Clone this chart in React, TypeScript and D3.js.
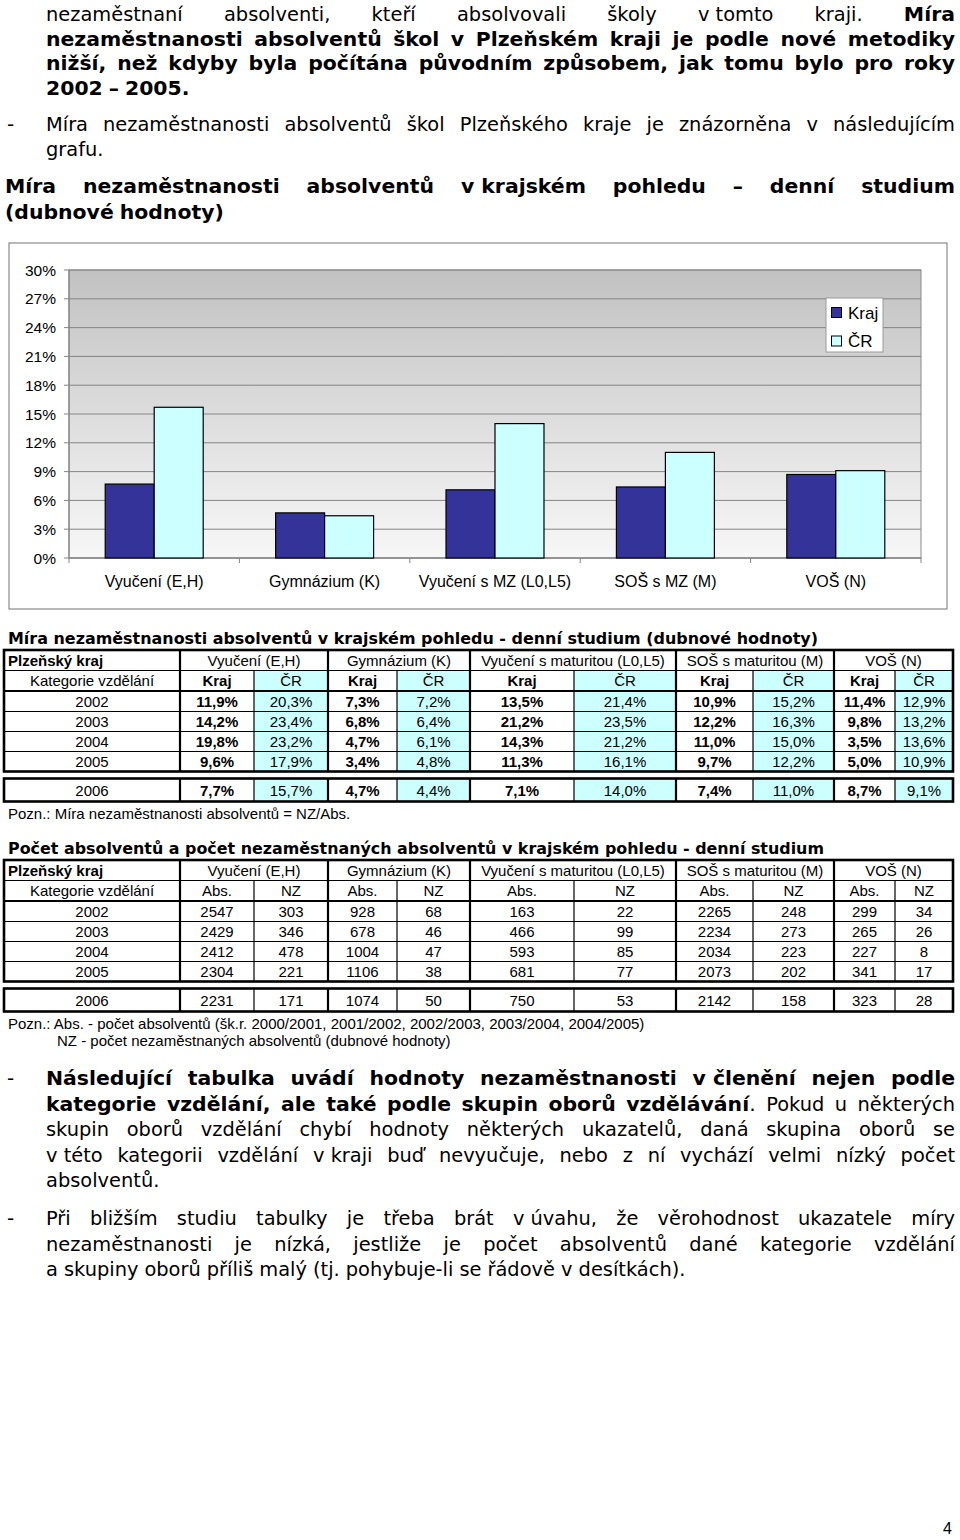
import React, { useEffect, useRef } from "react";
import * as d3 from "d3";

// ---------- DATA ----------
const years = ["2002", "2003", "2004", "2005", "2006"];
const groups = [
  "Vyučení (E,H)",
  "Gymnázium (K)",
  "Vyučení s maturitou (L0,L5)",
  "SOŠ s maturitou (M)",
  "VOŠ (N)",
];
const chartCategories = [
  "Vyučení (E,H)",
  "Gymnázium (K)",
  "Vyučení s MZ (L0,L5)",
  "SOŠ s MZ (M)",
  "VOŠ (N)",
];
const seriesNames = ["Kraj", "ČR"];
// rates per group, per year (2002..2006)
const krajRate = [
  [11.9, 14.2, 19.8, 9.6, 7.7],
  [7.3, 6.8, 4.7, 3.4, 4.7],
  [13.5, 21.2, 14.3, 11.3, 7.1],
  [10.9, 12.2, 11.0, 9.7, 7.4],
  [11.4, 9.8, 3.5, 5.0, 8.7],
];
const crRate = [
  [20.3, 23.4, 23.2, 17.9, 15.7],
  [7.2, 6.4, 6.1, 4.8, 4.4],
  [21.4, 23.5, 21.2, 16.1, 14.0],
  [15.2, 16.3, 15.0, 12.2, 11.0],
  [12.9, 13.2, 13.6, 10.9, 9.1],
];
const absCount = [
  [2547, 2429, 2412, 2304, 2231],
  [928, 678, 1004, 1106, 1074],
  [163, 466, 593, 681, 750],
  [2265, 2234, 2034, 2073, 2142],
  [299, 265, 227, 341, 323],
];
const nzCount = [
  [303, 346, 478, 221, 171],
  [68, 46, 47, 38, 50],
  [22, 99, 85, 77, 53],
  [248, 273, 223, 202, 158],
  [34, 26, 8, 17, 28],
];
const yTicks = [0, 3, 6, 9, 12, 15, 18, 21, 24, 27, 30];
const chartKraj = krajRate.map((r) => r[4]);
const chartCR = crRate.map((r) => r[4]);

// ---------- TEXT ----------
const para1 = [
  "nezaměstnaní absolventi, kteří absolvovali školy v\u00a0tomto kraji. *Míra*",
  "*nezaměstnanosti absolventů škol  v Plzeňském kraji je podle nové metodiky*",
  "*nižší, než kdyby byla počítána původním způsobem, jak tomu bylo pro roky*",
  "*2002 – 2005.*",
];
const bullet1 = [
  "Míra nezaměstnanosti absolventů škol Plzeňského kraje je znázorněna v následujícím",
  "grafu.",
];
const chartTitle = [
  "*Míra nezaměstnanosti absolventů v\u00a0krajském pohledu – denní studium*",
  "*(dubnové hodnoty)*",
];
const bullet2 = [
  "*Následující tabulka uvádí hodnoty nezaměstnanosti v\u00a0členění nejen podle*",
  "*kategorie vzdělání, ale také podle skupin oborů vzdělávání*. Pokud u některých",
  "skupin oborů vzdělání chybí hodnoty některých ukazatelů, daná skupina oborů se",
  "v\u00a0této kategorii vzdělání v\u00a0kraji buď nevyučuje, nebo z ní vychází velmi nízký počet",
  "absolventů.",
];
const bullet3 = [
  "Při bližším studiu tabulky je třeba brát v\u00a0úvahu, že věrohodnost ukazatele míry",
  "nezaměstnanosti je nízká, jestliže je počet absolventů dané kategorie vzdělání",
  "a skupiny oborů příliš malý (tj. pohybuje-li se řádově v\u00a0desítkách).",
];
const table1Title = "Míra nezaměstnanosti absolventů v krajském pohledu - denní studium (dubnové hodnoty)";
const table2Title = "Počet absolventů a počet nezaměstnaných absolventů v krajském pohledu - denní studium";
const note1 = "Pozn.: Míra nezaměstnanosti absolventů = NZ/Abs.";
const note2a = "Pozn.: Abs. - počet absolventů (šk.r. 2000/2001, 2001/2002, 2002/2003, 2003/2004, 2004/2005)";
const note2b = "NZ - počet nezaměstnaných absolventů (dubnové hodnoty)";

const BODY_FONT = "'DejaVu Sans', Verdana, sans-serif";
const ARIAL = "'Liberation Sans', Arial, sans-serif";
const BODY_SIZE = 20;
const REG_SCALE = 0.97;
const BOLD_SCALE = 1.02;

type Run = { t: string; b: boolean };
function parseWords(s: string): Run[][] {
  const words: Run[][] = [];
  let bold = false;
  let cur: Run[] = [];
  let buf = "";
  const flushRun = () => {
    if (buf) cur.push({ t: buf, b: bold });
    buf = "";
  };
  for (const ch of s) {
    if (ch === "*") {
      flushRun();
      bold = !bold;
    } else if (ch === " ") {
      flushRun();
      if (cur.length) words.push(cur);
      cur = [];
    } else buf += ch;
  }
  flushRun();
  if (cur.length) words.push(cur);
  return words;
}

const fmtRate = (v: number) => d3.format(".1f")(v).replace(".", ",") + "%";

const cols = [4, 180, 254, 328, 397, 470, 574, 676, 753, 834, 895, 953];

function DataTable(props: {
  top: number;
  title: string;
  titleW: number;
  sub: string[];
  subBold: boolean[];
  rows: string[][];
  valBold: boolean[];
  fill: boolean[];
}) {
  const { top, title, titleW, sub, subBold, rows, valBold, fill } = props;
  const rY = [0, 20.5, 41, 61.5, 81.5, 101.5, 121.5].map((d) => d + top);
  const r6 = [128.5, 151.5].map((d) => d + top);
  const els: React.ReactNode[] = [];
  for (let c = 0; c < 10; c++) {
    if (!fill[c]) continue;
    els.push(
      <rect key={"f" + c} x={cols[c + 1]} y={rY[1]} width={cols[c + 2] - cols[c + 1]} height={rY[6] - rY[1]} fill="#CCFFFF" />
    );
    els.push(
      <rect key={"g" + c} x={cols[c + 1]} y={r6[0]} width={cols[c + 2] - cols[c + 1]} height={r6[1] - r6[0]} fill="#CCFFFF" />
    );
  }
  els.push(<line key="h1" x1={cols[0]} x2={cols[11]} y1={rY[1]} y2={rY[1]} stroke="#000" strokeWidth={1.2} />);
  els.push(<line key="h2" x1={cols[0]} x2={cols[11]} y1={rY[2]} y2={rY[2]} stroke="#000" strokeWidth={2.2} />);
  for (let i = 3; i <= 5; i++)
    els.push(<line key={"h" + i} x1={cols[0]} x2={cols[11]} y1={rY[i]} y2={rY[i]} stroke="#000" strokeWidth={1.2} />);
  for (let c = 1; c <= 10; c++) {
    const thick = c % 2 === 1;
    els.push(
      <line key={"v" + c} x1={cols[c]} x2={cols[c]} y1={thick ? rY[0] : rY[1]} y2={rY[6]} stroke="#000" strokeWidth={thick ? 2.2 : 1.2} />
    );
    els.push(
      <line key={"w" + c} x1={cols[c]} x2={cols[c]} y1={r6[0]} y2={r6[1]} stroke="#000" strokeWidth={thick ? 2.2 : 1.2} />
    );
  }
  els.push(<rect key="o1" x={cols[0]} y={rY[0]} width={cols[11] - cols[0]} height={rY[6] - rY[0]} fill="none" stroke="#000" strokeWidth={2.6} />);
  els.push(<rect key="o2" x={cols[0]} y={r6[0]} width={cols[11] - cols[0]} height={r6[1] - r6[0]} fill="none" stroke="#000" strokeWidth={2.6} />);

  const txt: React.ReactNode[] = [];
  const mid = (a: number, b: number) => (a + b) / 2;
  txt.push(
    <text key="t0" x={8} y={rY[1] - 5} fontWeight="bold">Plzeňský kraj</text>
  );
  groups.forEach((g, i) =>
    txt.push(
      <text key={"g" + i} x={mid(cols[1 + 2 * i], cols[3 + 2 * i])} y={rY[1] - 5} textAnchor="middle">{g}</text>
    )
  );
  txt.push(<text key="kv" x={mid(cols[0], cols[1])} y={rY[2] - 5} textAnchor="middle">Kategorie vzdělání</text>);
  for (let c = 0; c < 10; c++) {
    txt.push(
      <text key={"s" + c} x={mid(cols[c + 1], cols[c + 2])} y={rY[2] - 5} textAnchor="middle" fontWeight={subBold[c % 2] ? "bold" : "normal"}>{sub[c % 2]}</text>
    );
  }
  rows.forEach((row, ri) => {
    const y = ri < 4 ? (rY[ri + 2] + rY[ri + 3]) / 2 + 5.5 : (r6[0] + r6[1]) / 2 + 5.5;
    txt.push(<text key={"y" + ri} x={mid(cols[0], cols[1])} y={y} textAnchor="middle">{years[ri]}</text>);
    row.forEach((v, c) =>
      txt.push(
        <text key={"c" + ri + "_" + c} x={mid(cols[c + 1], cols[c + 2])} y={y} textAnchor="middle" fontWeight={valBold[c] ? "bold" : "normal"}>{v}</text>
      )
    );
  });

  return (
    <g>
      <text x={8} y={top - 6} fontFamily="'DejaVu Sans', Verdana, sans-serif" fontWeight="bold" fontSize={15} textLength={titleW} lengthAdjust="spacingAndGlyphs">{title}</text>
      {els}
      <g fontFamily={ARIAL} fontSize={15} fill="#000">{txt}</g>
    </g>
  );
}

function Chart() {
  const x = d3.scaleBand<string>().domain(chartCategories).range([69, 921]);
  const y = d3.scaleLinear().domain([0, 30]).range([558, 270]);
  const bw = x.bandwidth();
  const groupW = bw * 0.575;
  const inner = d3.scaleBand<string>().domain(seriesNames).range([0, groupW]);
  const colors: Record<string, string> = { Kraj: "#333399", "ČR": "#CCFFFF" };
  const [x0, x1] = x.range();
  return (
    <g fontFamily={ARIAL}>
      <defs>
        <linearGradient id="plotbg" x1="0" y1="0" x2="0" y2="1">
          <stop offset="0" stopColor="#c2c2c2" />
          <stop offset="1" stopColor="#f7f7f7" />
        </linearGradient>
      </defs>
      <rect x={9} y={243} width={938} height={366} fill="#fff" stroke="#8a8a8a" strokeWidth={1.2} />
      <rect x={x0} y={y(30)} width={x1 - x0} height={y(0) - y(30)} fill="url(#plotbg)" stroke="#8a8a8a" strokeWidth={1} />
      {yTicks.map((t) => (
        <g key={t}>
          <line x1={x0} x2={x1} y1={y(t)} y2={y(t)} stroke="#858585" strokeWidth={1} />
          <line x1={x0 - 5} x2={x0} y1={y(t)} y2={y(t)} stroke="#858585" strokeWidth={1} />
          <text x={56} y={y(t) + 5.5} textAnchor="end" fontSize={15.5} fill="#000">{t + "%"}</text>
        </g>
      ))}
      <line x1={x0} x2={x0} y1={y(30)} y2={y(0)} stroke="#858585" strokeWidth={1.2} />
      <line x1={x0} x2={x1} y1={y(0)} y2={y(0)} stroke="#858585" strokeWidth={1.2} />
      {chartCategories.map((c, i) => (
        <line key={"tk" + i} x1={x(c)!} x2={x(c)!} y1={y(0)} y2={y(0) + 5} stroke="#858585" strokeWidth={1} />
      ))}
      <line x1={x1} x2={x1} y1={y(0)} y2={y(0) + 5} stroke="#858585" strokeWidth={1} />
      {chartCategories.map((c, i) => {
        const gx = x(c)! + (bw - groupW) / 2;
        const vals = [chartKraj[i], chartCR[i]];
        return (
          <g key={c}>
            {seriesNames.map((s, si) => (
              <rect key={s} x={gx + inner(s)!} y={y(vals[si])} width={inner.bandwidth()} height={y(0) - y(vals[si])} fill={colors[s]} stroke="#000" strokeWidth={1.2} />
            ))}
            <text x={x(c)! + bw / 2} y={587} textAnchor="middle" fontSize={16} fill="#000">{c}</text>
          </g>
        );
      })}
      <rect x={826} y={298} width={57} height={54} fill="#fff" stroke="#9a9a9a" strokeWidth={1} />
      {seriesNames.map((s, i) => (
        <g key={s}>
          <rect x={831.5} y={307.5 + i * 28.5} width={10} height={10} fill={colors[s]} stroke="#000" strokeWidth={1} />
          <text x={848} y={318.5 + i * 28.5} fontSize={17} fill="#000">{s}</text>
        </g>
      ))}
    </g>
  );
}

export default function App() {
  const ref = useRef<SVGGElement>(null);

  useEffect(() => {
    const g = d3.select(ref.current);
    g.selectAll("*").remove();
    const blocks = [
      { lines: para1, x0: 46, x1: 955, y0: 21, lh: 24.5, bullet: false },
      { lines: bullet1, x0: 46, x1: 955, y0: 131, lh: 25, bullet: true },
      { lines: chartTitle, x0: 5, x1: 955, y0: 193, lh: 26, bullet: false },
      { lines: bullet2, x0: 46, x1: 955, y0: 1085, lh: 25.5, bullet: true },
      { lines: bullet3, x0: 46, x1: 955, y0: 1225, lh: 25.5, bullet: true },
    ];
    blocks.forEach((blk) => {
      if (blk.bullet) {
        g.append("text").attr("x", 7).attr("y", blk.y0).attr("font-family", BODY_FONT)
          .attr("font-size", BODY_SIZE).text("-");
      }
      blk.lines.forEach((ln, li) => {
        const yy = blk.y0 + li * blk.lh;
        const justify = li < blk.lines.length - 1;
        const words = parseWords(ln);
        const nodes = words.map((w) => {
          const t = g.append("text").attr("y", yy).attr("font-family", BODY_FONT)
            .attr("font-size", BODY_SIZE).attr("fill", "#000");
          w.forEach((r) => t.append("tspan").attr("font-weight", r.b ? "bold" : "normal").text(r.t));
          return t;
        });
        const widths = nodes.map((nd, i) => {
          const wNat = (nd.node() as SVGTextElement).getComputedTextLength();
          const isBold = words[i].some((r) => r.b);
          return wNat * (isBold ? BOLD_SCALE : REG_SCALE);
        });
        const total = d3.sum(widths);
        const avail = blk.x1 - blk.x0;
        const sp = BODY_SIZE * 0.3;
        const n = nodes.length;
        let k = 1;
        if (total + sp * (n - 1) > avail) k = (avail - sp * (n - 1)) / total;
        let gap = sp;
        if (justify && n > 1) gap = (avail - total * k) / (n - 1);
        let cx = blk.x0;
        nodes.forEach((nd, i) => {
          nd.attr("x", cx).attr("textLength", widths[i] * k).attr("lengthAdjust", "spacingAndGlyphs");
          cx += widths[i] * k + gap;
        });
      });
    });
  }, []);

  const rows1 = years.map((_, yi) => {
    const r: string[] = [];
    groups.forEach((__, gi) => {
      r.push(fmtRate(krajRate[gi][yi]));
      r.push(fmtRate(crRate[gi][yi]));
    });
    return r;
  });
  const rows2 = years.map((_, yi) => {
    const r: string[] = [];
    groups.forEach((__, gi) => {
      r.push(String(absCount[gi][yi]));
      r.push(String(nzCount[gi][yi]));
    });
    return r;
  });
  const alt = (a: boolean, b: boolean) => d3.range(10).map((i) => (i % 2 === 0 ? a : b));

  return (
    <svg width={960} height={1540} style={{ position: "absolute", left: 0, top: 0, background: "#fff" }}>
      <rect x={0} y={0} width={960} height={1540} fill="#fff" />
      <g ref={ref} />
      <Chart />
      <DataTable top={650} title={table1Title} titleW={810} sub={["Kraj", "ČR"]} subBold={[true, false]} rows={rows1} valBold={alt(true, false)} fill={alt(false, true)} />
      <text x={8} y={819} fontFamily={ARIAL} fontSize={15}>{note1}</text>
      <DataTable top={860} title={table2Title} titleW={816} sub={["Abs.", "NZ"]} subBold={[false, false]} rows={rows2} valBold={alt(false, false)} fill={alt(false, false)} />
      <text x={8} y={1029} fontFamily={ARIAL} fontSize={15}>{note2a}</text>
      <text x={57} y={1046} fontFamily={ARIAL} fontSize={15}>{note2b}</text>
      <text x={943} y={1534} fontFamily={ARIAL} fontSize={16}>4</text>
    </svg>
  );
}
